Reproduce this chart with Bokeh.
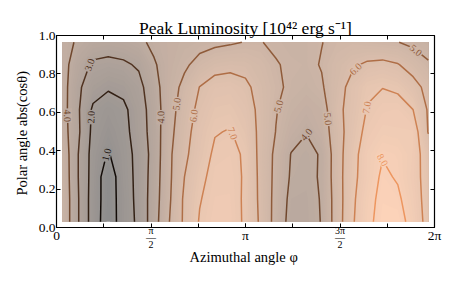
import math
import numpy as np
from bokeh.plotting import figure
from bokeh.plotting.contour import contour_data
from bokeh.models import Range1d, FixedTicker, LinearAxis, PrintfTickFormatter
from bokeh.core.properties import value
from bokeh.embed import file_html
from bokeh.resources import INLINE

# ---------------- data ----------------
azimuth = [0.100, 0.353, 0.607, 0.860, 1.113, 1.367, 1.620, 1.873, 2.127, 2.380,
           2.633, 2.887, 3.140, 3.393, 3.647, 3.900, 4.153, 4.407, 4.660, 4.913,
           5.167, 5.420, 5.673, 5.927, 6.180]
cos_polar = [0.030, 0.147, 0.264, 0.381, 0.498, 0.614, 0.731, 0.848, 0.965]

lum_c030 = [4.80, 3.10, 1.54, 0.44, 1.48, 2.20, 3.58, 4.98, 6.17, 7.07, 7.45, 7.40, 6.87, 5.84, 4.66, 3.65, 3.70, 4.03, 5.48, 6.87, 7.77, 8.35, 8.40, 7.63, 6.65]
lum_c147 = [4.80, 3.10, 1.54, 0.50, 1.45, 2.28, 3.52, 4.87, 6.16, 6.95, 7.35, 7.35, 6.87, 5.78, 4.70, 3.75, 3.72, 4.05, 5.48, 6.80, 7.70, 8.25, 8.15, 7.50, 6.60]
lum_c264 = [4.75, 3.05, 1.60, 0.45, 1.55, 2.27, 3.47, 4.82, 6.00, 6.80, 7.25, 7.30, 6.90, 5.75, 4.75, 3.90, 3.80, 4.08, 5.55, 6.72, 7.50, 8.15, 7.92, 7.38, 6.60]
lum_c381 = [4.70, 3.05, 1.63, 0.92, 1.60, 2.29, 3.39, 4.82, 5.80, 6.55, 7.15, 7.20, 6.90, 5.70, 4.80, 3.97, 3.85, 4.05, 5.55, 6.65, 7.50, 7.95, 7.85, 7.45, 6.50]
lum_c498 = [4.45, 3.20, 1.75, 1.30, 1.70, 2.45, 3.45, 4.70, 5.65, 6.45, 6.95, 7.05, 6.65, 5.75, 4.98, 4.35, 4.02, 4.45, 5.55, 6.50, 7.25, 7.55, 7.50, 7.50, 5.95]
lum_c614 = [4.40, 3.15, 1.85, 1.55, 1.80, 2.50, 3.50, 4.60, 5.50, 6.25, 6.70, 6.75, 6.45, 5.75, 5.05, 4.60, 4.35, 4.55, 5.75, 6.35, 7.05, 7.30, 7.35, 7.00, 5.90]
lum_c731 = [4.40, 3.20, 2.40, 2.10, 2.25, 2.70, 3.65, 4.55, 5.25, 6.02, 6.40, 6.45, 6.20, 5.65, 5.20, 4.80, 4.65, 4.90, 5.60, 6.30, 6.85, 6.98, 6.85, 6.35, 5.70]
lum_c848 = [4.35, 3.50, 2.85, 2.75, 2.85, 3.12, 3.90, 4.45, 4.85, 5.30, 5.65, 5.75, 5.70, 5.45, 5.06, 4.85, 4.80, 5.05, 5.50, 5.85, 6.15, 6.25, 6.05, 5.60, 5.10]
lum_c965 = [4.30, 3.90, 3.55, 3.45, 3.55, 3.80, 4.20, 4.45, 4.60, 4.70, 4.80, 4.90, 5.03, 5.03, 4.85, 4.75, 4.80, 4.98, 5.20, 5.30, 5.20, 5.08, 5.02, 4.80, 4.60]

contour_levels = [1.0, 2.0, 3.0, 4.0, 5.0, 6.0, 7.0, 8.0]

# contour label anchors (level, azimuth, cos)
label_levels = [4.0, 3.0, 2.0, 1.0, 4.0, 5.0, 6.0, 7.0, 5.0, 4.0, 5.0, 6.0, 7.0, 8.0, 5.0]
label_phi = [0.204, 0.510, 0.565, 0.760, 1.729, 1.978, 2.256, 2.921, 3.640, 4.084, 4.526, 4.970, 5.136, 5.580, 5.995]
label_cos = [0.583, 0.853, 0.575, 0.385, 0.574, 0.644, 0.583, 0.490, 0.635, 0.505, 0.566, 0.827, 0.626, 0.384, 0.930]

x_tick_values = [k * math.pi / 4 for k in range(9)]
x_tick_labels = ["0", "", "π/2", "", "π", "", "3π/2", "", "2π"]
y_tick_values = [0.0, 0.2, 0.4, 0.6, 0.8, 1.0]

TITLE = "Peak Luminosity [10⁴² erg s⁻¹]"
XLABEL = "Azimuthal angle  φ"
YLABEL = "Polar angle  abs(cosθ)"

# ---------------- styling helpers ----------------
VMIN, VMAX = 0.4, 10.5
ALPHA = 0.45
SERIF = "Liberation Serif"


def copper(v):
    x = min(1.0, max(0.0, (v - VMIN) / (VMAX - VMIN)))
    return (min(1.0, x / 0.809524), 0.7812 * x, 0.4975 * x)


def hexc(rgb):
    return "#%02x%02x%02x" % tuple(int(round(255 * max(0, min(1, c)))) for c in rgb)


def line_col(v):
    return hexc(copper(v))


def bg_col(v):
    r, g, b = copper(v)
    return hexc(tuple(1 - ALPHA + ALPHA * c for c in (r, g, b)))


lum = np.array([lum_c030, lum_c147, lum_c264, lum_c381, lum_c498,
                lum_c614, lum_c731, lum_c848, lum_c965], dtype=float)

# ---------------- figure ----------------
p = figure(width=457, height=286, x_range=Range1d(0, 2 * math.pi), y_range=Range1d(0, 1),
           output_backend="svg", toolbar_location=None,
           min_border_left=56, min_border_right=23, min_border_top=35, min_border_bottom=59)
p.background_fill_color = "white"
p.border_fill_color = "white"
p.xgrid.visible = False
p.ygrid.visible = False
p.outline_line_color = "black"
p.outline_line_width = 1.2

# background shading: stacked filled regions above successive thresholds
zmin, zmax = float(lum.min()), float(lum.max())
nb = 60
thr = list(np.linspace(zmin - 0.01, zmax, nb + 1))
for i in range(nb):
    col = bg_col(thr[i] + 0.5 * (thr[1] - thr[0]))
    p.contour(azimuth, cos_polar, lum, levels=[thr[i], zmax + 1.0],
              fill_color=col, line_color=None)

# contour lines
lcols = [line_col(v) for v in contour_levels]
p.contour(azimuth, cos_polar, lum, levels=contour_levels, fill_color=None,
          line_color=lcols, line_width=1.5)

# contour labels, snapped to the computed contour lines
cd = contour_data(azimuth, cos_polar, lum, contour_levels)
SX = 378 / (2 * math.pi)
SY = 192.0
lx, ly, lt, la, lc, lb = [], [], [], [], [], []
for L, hx, hy in zip(label_levels, label_phi, label_cos):
    i = contour_levels.index(L)
    xs = np.asarray(cd.line_data.xs[i], dtype=float)
    ys = np.asarray(cd.line_data.ys[i], dtype=float)
    best = None
    px, py = hx * SX, hy * SY
    for k in range(len(xs) - 1):
        seg = (xs[k], ys[k], xs[k + 1], ys[k + 1])
        if any(math.isnan(s) for s in seg):
            continue
        ax, ay, bx, by = seg[0] * SX, seg[1] * SY, seg[2] * SX, seg[3] * SY
        dx, dy = bx - ax, by - ay
        s2 = dx * dx + dy * dy
        t = 0.0 if s2 == 0 else max(0.0, min(1.0, ((px - ax) * dx + (py - ay) * dy) / s2))
        qx, qy = ax + t * dx, ay + t * dy
        d = (qx - px) ** 2 + (qy - py) ** 2
        if best is None or d < best[0]:
            best = (d, qx, qy, dx, dy)
    if best is None:
        continue
    _, qx, qy, dx, dy = best
    deg = math.degrees(math.atan2(dy, dx))
    deg = (deg + 90) % 180 - 90
    lx.append(qx / SX)
    ly.append(qy / SY)
    lt.append("%.1f" % L)
    la.append(math.radians(deg))
    lc.append(line_col(L))
    lb.append(bg_col(L))

p.text(x=lx, y=ly, text=lt, angle=la, text_align="center", text_baseline="middle",
       text_font=value(SERIF), text_font_size="10px", text_color=lc,
       background_fill_color=lb, padding=1)

# ---------------- axes ----------------
p.title.text = TITLE
p.title.align = "center"
p.title.text_font = SERIF
p.title.text_font_size = "17.5px"
p.title.text_font_style = "normal"
p.title.text_color = "black"
p.title.standoff = -4

whole = [t for t in x_tick_labels if t and "/" not in t]
whole_vals = [v for v, t in zip(x_tick_values, x_tick_labels) if t and "/" not in t]
frac = [t for t in x_tick_labels if "/" in t]
frac_vals = [v for v, t in zip(x_tick_values, x_tick_labels) if "/" in t]


def style_axis(ax):
    ax.axis_line_color = None
    ax.major_tick_in = 4
    ax.major_tick_out = 0
    ax.minor_tick_in = 4
    ax.minor_tick_out = 0
    ax.major_tick_line_color = "black"
    ax.minor_tick_line_color = "black"
    ax.major_label_text_font = SERIF
    ax.major_label_text_color = "black"
    ax.axis_label_text_font = SERIF
    ax.axis_label_text_font_style = "normal"
    ax.axis_label_text_font_size = "14.5px"
    ax.axis_label_text_color = "black"


# inner x axis: whole-number labels, ticks at every pi/4
xa = p.xaxis[0]
xa.ticker = FixedTicker(ticks=whole_vals, minor_ticks=x_tick_values)
xa.major_label_overrides = {v: t for v, t in zip(whole_vals, whole)}
style_axis(xa)
xa.major_label_text_font_size = "13.5px"
xa.major_label_standoff = 0

# outer x axis: stacked fraction labels (pulled up next to the inner labels)
xb = LinearAxis(ticker=FixedTicker(ticks=frac_vals))
style_axis(xb)
xb.major_tick_line_color = None
xb.minor_tick_line_color = None
xb.major_label_overrides = {v: t.split("/")[0] + "\n—\n" + t.split("/")[1] for v, t in zip(frac_vals, frac)}
xb.major_label_text_font_size = "10px"
xb.major_label_text_color = "#000000"
xb.major_label_text_line_height = 0.65
xb.major_label_standoff = -21
xb.axis_label = XLABEL
xb.axis_label_standoff = -4
p.add_layout(xb, "below")

ya = p.yaxis[0]
ya.ticker = FixedTicker(ticks=y_tick_values)
ya.formatter = PrintfTickFormatter(format="%.1f")
ya.axis_label = YLABEL
style_axis(ya)
ya.major_label_text_font_size = "13.5px"
ya.major_label_standoff = 1
ya.axis_label_standoff = 6

# mirrored tick marks (no labels) on the top and right
for loc, ticks in (("right", y_tick_values), ("above", x_tick_values)):
    extra = LinearAxis(ticker=FixedTicker(ticks=[], minor_ticks=ticks))
    style_axis(extra)
    extra.major_label_standoff = 0
    p.add_layout(extra, loc)

open("out.html", "w").write(file_html(p, INLINE))
